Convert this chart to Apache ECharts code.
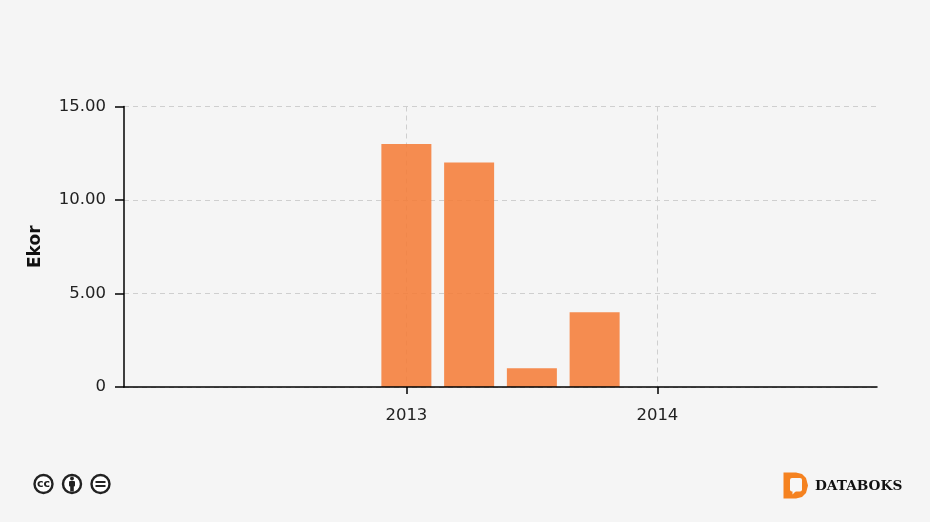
<!DOCTYPE html>
<html><head><meta charset="utf-8">
<style>html,body{margin:0;padding:0;background:#f5f5f5}#c{width:930px;height:522px}</style>
<script src="https://cdn.jsdelivr.net/npm/echarts@6/dist/echarts.min.js"></script></head>
<body><div id="c"></div>
<script>
const quarters = ['2012 Q1','2012 Q2','2012 Q3','2012 Q4','2013 Q1','2013 Q2','2013 Q3','2013 Q4','2014 Q1','2014 Q2','2014 Q3','2014 Q4'];
const values = [null,null,null,null,13,12,1,4,0,null,null,null];
const yTicks = {interval:5,max:15};
const yAxisName = 'Ekor';
const isYearStart = (i) => i === 4 || i === 8;
const font = '"DejaVu Sans", sans-serif';
const axisColor = '#000';
const gridStyle = {color:'#cfcfcf',type:[5,4],width:1};
const chart = echarts.init(document.getElementById('c'), null, {renderer:'canvas'});
const ring = (cx) => ({type:'circle',shape:{cx,cy:484,r:9},style:{fill:'#fff',stroke:'#222',lineWidth:2.4}});
chart.setOption({
  backgroundColor:'#f5f5f5',
  animation:false,
  grid:{left:124,right:53,top:106.5,bottom:135},
  xAxis:[
    {type:'category',data:quarters,boundaryGap:true,
      axisLine:{show:false},axisTick:{show:false},axisLabel:{show:false},
      splitLine:{show:true,alignWithLabel:true,interval:(i)=>isYearStart(i),lineStyle:gridStyle}},
    {type:'category',data:quarters,boundaryGap:true,position:'bottom',z:5,
      axisLine:{show:true,onZero:false,lineStyle:{color:axisColor,width:1.5}},
      axisTick:{show:true,alignWithLabel:true,interval:(i)=>isYearStart(i),length:7,lineStyle:{color:axisColor,width:1.5}},
      axisLabel:{interval:(i)=>isYearStart(i),formatter:(v)=>v.slice(0,4),color:'#222',fontFamily:font,fontSize:16.5,margin:20},
      splitLine:{show:false}}
  ],
  yAxis:{type:'value',min:0,max:yTicks.max,interval:yTicks.interval,
    name:yAxisName,nameLocation:'middle',nameGap:80,nameRotate:90,
    nameTextStyle:{fontFamily:font,fontSize:17,fontWeight:'bold',color:'#111'},
    axisLine:{show:true,lineStyle:{color:axisColor,width:1.5}},
    axisTick:{show:true,length:9,lineStyle:{color:axisColor,width:1.5}},
    axisLabel:{formatter:(v)=>v===0?'0':v.toFixed(2),color:'#222',fontFamily:font,fontSize:16.5,margin:18},
    splitLine:{show:true,lineStyle:gridStyle}},
  series:[{type:'bar',xAxisIndex:0,data:values,barWidth:50,z:3,
    itemStyle:{color:'rgba(245,125,57,0.88)'}}],
  graphic:[
    ring(43.5),
    {type:'text',style:{x:43.5,y:484,text:'cc',fill:'#222',font:'bold 11px "DejaVu Sans"',align:'center',verticalAlign:'middle'}},
    ring(72),
    {type:'circle',shape:{cx:72,cy:478.5,r:1.9},style:{fill:'#222'}},
    {type:'rect',shape:{x:69,y:481,width:6,height:5.5,r:1},style:{fill:'#222'}},
    {type:'rect',shape:{x:70.2,y:485,width:3.6,height:6.5},style:{fill:'#222'}},
    ring(100.5),
    {type:'rect',shape:{x:95.5,y:481,width:10,height:2},style:{fill:'#222'}},
    {type:'rect',shape:{x:95.5,y:485,width:10,height:2},style:{fill:'#222'}},
    {type:'polygon',shape:{smooth:0,points:[[783.5,472.5],[796,472.5],[802,474],[806,478],[808,485.5],[806,493],[802,497],[796,498.5],[783.5,498.5]]},style:{fill:'#f58220'}},
    {type:'rect',shape:{x:790,y:478,width:12,height:13.5,r:2},style:{fill:'#f7f7f7'}},
    {type:'polygon',shape:{points:[[792.5,491],[796,491],[792.5,494.5]]},style:{fill:'#f7f7f7'}},
    {type:'text',style:{x:815,y:486,text:'DATABOKS',fill:'#111',font:'bold 13.7px "DejaVu Serif"',verticalAlign:'middle'}}
  ]
});
</script></body></html>
